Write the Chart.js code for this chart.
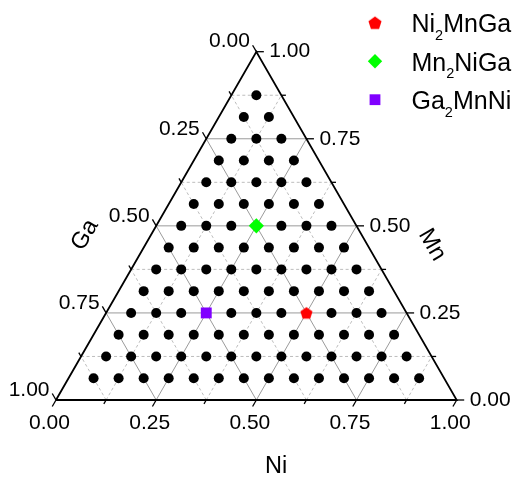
<!DOCTYPE html>
<html>
<head>
<meta charset="utf-8">
<script src="https://cdn.jsdelivr.net/npm/chart.js@4/dist/chart.umd.min.js"></script>
<style>
  html, body { margin: 0; padding: 0; background: #ffffff; }
  canvas { display: block; }
</style>
</head>
<body>
<canvas id="c" width="517" height="481"></canvas>
<script>
// ---------- data (compositions, fractions in 1/16 steps) ----------
// Black grid of compositions: one row per Mn level (in 16ths), Ni values (in 16ths) per row
const DOT_ROWS_MN16 = [1, 2, 3, 4, 5, 6, 7, 8, 9, 10, 11, 12, 13, 14];
const DOT_ROWS_NI16 = [
  [1, 2, 3, 4, 5, 6, 7, 8, 9, 10, 11, 12, 13, 14],
  [1, 2, 3, 4, 5, 6, 7, 8, 9, 10, 11, 12, 13],
  [1, 2, 3, 4, 5, 6, 7, 8, 9, 10, 11, 12],
  [1, 2, 3, 5, 6, 7, 9, 10, 11],
  [1, 2, 3, 4, 5, 6, 7, 8, 9, 10],
  [1, 2, 3, 4, 5, 6, 7, 8, 9],
  [1, 2, 3, 4, 5, 6, 7, 8],
  [1, 2, 3, 5, 6, 7],
  [1, 2, 3, 4, 5, 6],
  [1, 2, 3, 4, 5],
  [1, 2, 3, 4],
  [1, 2, 3],
  [1, 2],
  [1]
];
// Highlighted compounds
const SPECIAL_NAMES = ['Ni2MnGa', 'Mn2NiGa', 'Ga2MnNi'];
const SPECIAL_NI = [0.50, 0.25, 0.25];
const SPECIAL_MN = [0.25, 0.50, 0.25];
const SPECIAL_GA = [0.25, 0.25, 0.50];
// Axis ticks
const TICK_VALUES = [0, 0.125, 0.25, 0.375, 0.5, 0.625, 0.75, 0.875, 1];
const TICK_LABELS = ['0.00', '', '0.25', '', '0.50', '', '0.75', '', '1.00'];
const AXIS_TITLES = ['Ni', 'Mn', 'Ga'];

// ---------- ternary -> cartesian (x = Ni + Mn/2, y = Mn) ----------
function tern(ni, mn) { return { x: ni + mn / 2, y: mn }; }

const FONT = '"Liberation Sans", Arial, Helvetica, sans-serif';
const COLORS = ['#ff0000', '#00ff00', '#8000ff'];

// pentagon image for point style
function pentagonCanvas(R, color) {
  const s = Math.ceil(2 * R + 2);
  const cv = document.createElement('canvas');
  cv.width = s; cv.height = s;
  const g = cv.getContext('2d');
  g.fillStyle = color;
  g.beginPath();
  for (let i = 0; i < 5; i++) {
    const a = -Math.PI / 2 + i * 2 * Math.PI / 5;
    const px = s / 2 + R * Math.cos(a), py = s / 2 + R * Math.sin(a) + 0.6;
    if (i === 0) g.moveTo(px, py); else g.lineTo(px, py);
  }
  g.closePath();
  g.fill();
  return cv;
}
const pentChart = pentagonCanvas(6.4, COLORS[0]);
const pentLegend = pentagonCanvas(6.9, COLORS[0]);

// ---------- datasets ----------
const datasets = [];

// grid lines
TICK_VALUES.forEach((c, i) => {
  if (c <= 0 || c >= 1) return;
  const major = (i % 2 === 0);
  const style = {
    showLine: true, pointRadius: 0, borderWidth: 1,
    borderColor: major ? '#9a9a9a' : '#bdbdbd',
    borderDash: major ? [] : [3, 2.5],
    fill: false, order: 5
  };
  datasets.push(Object.assign({ data: [tern(0, c), tern(1 - c, c)] }, style));     // const Mn
  datasets.push(Object.assign({ data: [tern(c, 0), tern(c, 1 - c)] }, style));     // const Ni
  datasets.push(Object.assign({ data: [tern(1 - c, 0), tern(0, 1 - c)] }, style)); // const Ga
});

// triangle frame
datasets.push({
  data: [tern(0, 0), tern(1, 0), tern(0, 1), tern(0, 0)],
  showLine: true, pointRadius: 0, borderWidth: 1.8, borderColor: '#000000',
  borderJoinStyle: 'miter', fill: false, order: 4
});

// black dots
const dots = [];
DOT_ROWS_MN16.forEach((mn16, r) => {
  DOT_ROWS_NI16[r].forEach(ni16 => dots.push(tern(ni16 / 16, mn16 / 16)));
});
datasets.push({
  data: dots, pointRadius: 5, pointStyle: 'circle',
  backgroundColor: '#000000', borderColor: '#000000', borderWidth: 0, showLine: false, order: 3
});

// special compounds
const specialStyles = [
  { pointStyle: pentChart, pointRadius: 6.4 },
  { pointStyle: 'rectRot', pointRadius: 7.6 },
  { pointStyle: 'rect', pointRadius: 7.7 }
];
SPECIAL_NAMES.forEach((n, i) => {
  datasets.push(Object.assign({
    label: n,
    data: [tern(SPECIAL_NI[i], SPECIAL_MN[i])],
    backgroundColor: COLORS[i], borderColor: COLORS[i], borderWidth: 0,
    showLine: false, order: 1
  }, specialStyles[i]));
});

// ---------- decoration plugin: ticks, labels, titles, legend ----------
const ternaryDecor = {
  id: 'ternaryDecor',
  afterDraw(chart) {
    const ctx = chart.ctx;
    const xs = chart.scales.x, ys = chart.scales.y;
    const P = (ni, mn) => ({ x: xs.getPixelForValue(ni + mn / 2), y: ys.getPixelForValue(mn) });
    ctx.save();
    ctx.strokeStyle = '#000000';
    ctx.lineWidth = 1.3;
    ctx.fillStyle = '#000000';

    const tick = (p, dx, dy, len) => {
      ctx.beginPath();
      ctx.moveTo(p.x, p.y);
      ctx.lineTo(p.x + dx * len, p.y + dy * len);
      ctx.stroke();
    };
    ctx.font = '21px ' + FONT;
    TICK_VALUES.forEach((c, i) => {
      const major = (i % 2 === 0);
      const len = major ? 7.5 : 4.5;
      // Ni (bottom)
      const pn = P(c, 0);
      tick(pn, -0.5, 0.866, len);
      // Mn (right)
      const pm = P(1 - c, c);
      tick(pm, 1, 0, len);
      // Ga (left)
      const pg = P(0, 1 - c);
      tick(pg, -0.5, -0.866, len);
      if (TICK_LABELS[i]) {
        ctx.textBaseline = 'middle';
        ctx.textAlign = 'center';
        ctx.fillText(TICK_LABELS[i], pn.x - 6.5, pn.y + 23);
        ctx.textAlign = 'left';
        ctx.fillText(TICK_LABELS[i], pm.x + 13, pm.y);
        ctx.textAlign = 'right';
        ctx.fillText(TICK_LABELS[i], pg.x - 6.5, pg.y - 10);
      }
    });

    // axis titles
    ctx.font = '23.5px ' + FONT;
    ctx.textAlign = 'center';
    ctx.textBaseline = 'middle';
    ctx.fillText(AXIS_TITLES[0], 276, 467);
    ctx.save();
    ctx.translate(432, 245);
    ctx.rotate(Math.PI / 3);
    ctx.fillText(AXIS_TITLES[1], 0, 0);
    ctx.restore();
    ctx.save();
    ctx.translate(85, 235);
    ctx.rotate(-Math.PI / 3);
    ctx.fillText(AXIS_TITLES[2], 0, 0);
    ctx.restore();

    // legend
    const mx = 375, tx = 411.5;
    const baselines = [32, 70.5, 109];
    SPECIAL_NAMES.forEach((name, i) => {
      const cy = baselines[i] - 9.3;
      ctx.fillStyle = COLORS[i];
      if (i === 0) {
        ctx.drawImage(pentLegend, mx - pentLegend.width / 2, cy - pentLegend.height / 2);
      } else if (i === 1) {
        ctx.beginPath();
        ctx.moveTo(mx, cy - 7.2); ctx.lineTo(mx + 7.2, cy);
        ctx.lineTo(mx, cy + 7.2); ctx.lineTo(mx - 7.2, cy);
        ctx.closePath(); ctx.fill();
      } else {
        ctx.fillRect(mx - 5.4, cy - 5.4, 10.8, 10.8);
      }
      // text with subscript digits
      ctx.fillStyle = '#000000';
      ctx.textAlign = 'left';
      ctx.textBaseline = 'alphabetic';
      let x = tx;
      for (const ch of name) {
        if (/[0-9]/.test(ch)) {
          ctx.font = '14.5px ' + FONT;
          ctx.fillText(ch, x, baselines[i] + 7.5);
        } else {
          ctx.font = '25px ' + FONT;
          ctx.fillText(ch, x, baselines[i]);
        }
        x += ctx.measureText(ch).width;
      }
    });
    ctx.restore();
  }
};

new Chart(document.getElementById('c'), {
  type: 'scatter',
  data: { datasets },
  options: {
    responsive: false,
    devicePixelRatio: 1,
    animation: false,
    events: [],
    clip: false,
    layout: { padding: { left: 56, right: 60.3, top: 51.7, bottom: 81 } },
    scales: {
      x: { type: 'linear', min: 0, max: 1, display: false },
      y: { type: 'linear', min: 0, max: 1, display: false }
    },
    plugins: { legend: { display: false }, tooltip: { enabled: false } },
    elements: { line: { tension: 0 } }
  },
  plugins: [ternaryDecor]
});
</script>
</body>
</html>
